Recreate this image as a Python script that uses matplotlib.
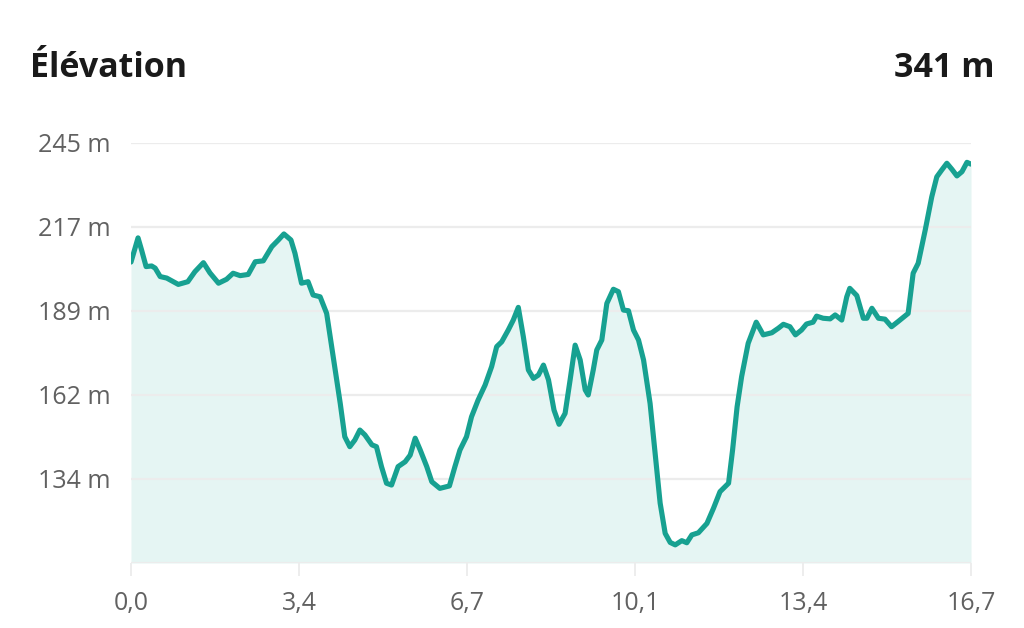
import matplotlib
matplotlib.use("Agg")
import matplotlib.pyplot as plt
import numpy as np

# distance (km) and elevation (m)
dist_km = [0.00, 0.14, 0.21, 0.30, 0.41, 0.48, 0.58, 0.71, 0.94, 1.13, 1.27, 1.44, 1.57, 1.74,
           1.90, 2.03, 2.17, 2.33, 2.47, 2.63, 2.80, 2.93, 3.04, 3.18, 3.26, 3.39, 3.52, 3.62,
           3.76, 3.89, 4.02, 4.16, 4.25, 4.35, 4.45, 4.55, 4.65, 4.79, 4.88, 4.98, 5.08, 5.18,
           5.31, 5.45, 5.55, 5.65, 5.75, 5.88, 5.98, 6.14, 6.33, 6.44, 6.54, 6.67, 6.77, 6.90,
           7.04, 7.17, 7.27, 7.37, 7.50, 7.60, 7.70, 7.80, 7.90, 8.00, 8.10, 8.20, 8.30, 8.41,
           8.51, 8.63, 8.73, 8.83, 8.93, 9.03, 9.09, 9.19, 9.26, 9.36, 9.46, 9.59, 9.69, 9.79,
           9.89, 9.99, 10.09, 10.19, 10.32, 10.42, 10.52, 10.62, 10.72, 10.82, 10.95, 11.05,
           11.15, 11.28, 11.45, 11.58, 11.71, 11.88, 11.96, 12.05, 12.14, 12.27, 12.43, 12.57,
           12.74, 12.87, 12.97, 13.10, 13.21, 13.33, 13.43, 13.56, 13.63, 13.76, 13.90, 14.00,
           14.13, 14.23, 14.29, 14.43, 14.56, 14.63, 14.73, 14.86, 14.99, 15.12, 15.25, 15.45,
           15.55, 15.65, 15.79, 15.92, 16.02, 16.12, 16.22, 16.32, 16.42, 16.52, 16.62, 16.70]
elev_m = [205.6, 213.6, 209.6, 204.1, 204.3, 203.6, 200.8, 200.3, 198.2, 199.1, 202.4, 205.4,
          202.0, 198.6, 199.9, 201.9, 201.1, 201.5, 205.7, 206.0, 210.7, 212.9, 214.9, 212.9,
          208.5, 198.6, 199.1, 194.7, 194.1, 188.6, 174.3, 158.8, 147.8, 144.5, 146.7, 150.0,
          148.4, 145.1, 144.5, 137.9, 132.4, 131.8, 137.9, 139.5, 141.7, 147.3, 143.4, 137.9,
          132.9, 130.7, 131.5, 137.9, 143.4, 147.8, 154.4, 159.9, 164.9, 171.0, 177.6, 179.2,
          183.1, 186.4, 190.6, 180.9, 169.9, 167.1, 168.2, 171.5, 166.6, 156.6, 151.9, 155.5,
          166.6, 178.1, 173.2, 163.3, 161.6, 169.9, 176.5, 179.8, 191.9, 196.6, 195.8, 189.7,
          189.5, 183.1, 179.8, 173.2, 158.8, 142.3, 125.8, 115.8, 112.8, 112.0, 113.4, 112.7,
          115.3, 116.0, 119.1, 124.1, 129.6, 132.4, 143.4, 157.7, 167.7, 178.7, 185.7, 181.5,
          182.2, 183.7, 185.0, 184.2, 181.5, 183.1, 185.1, 185.7, 187.7, 187.0, 186.8, 188.1,
          186.4, 194.1, 196.9, 194.5, 187.0, 187.0, 190.3, 187.0, 186.7, 184.2, 185.9, 188.6,
          201.9, 205.2, 216.2, 227.2, 233.8, 236.1, 238.3, 236.3, 234.1, 235.5, 238.6, 238.0]

total_km = 16.7
x_labels = ["0,0", "3,4", "6,7", "10,1", "13,4", "16,7"]
y_min, y_max = 106.0, 245.0
y_labels = ["", "134 m", "162 m", "189 m", "217 m", "245 m"]
title = "Élévation"
gain = "341 m"

line_col = "#17a191"
fill_col = "#e5f5f3"
grid_col = "#ececec"
label_col = "#616161"

plt.rcParams["font.family"] = ["Open Sans", "DejaVu Sans"]

fig = plt.figure(figsize=(10.24, 6.28), dpi=100)
ax = fig.add_axes([131 / 1024, 1 - 563 / 628, 840 / 1024, 420 / 628])

ax.fill_between(dist_km, elev_m, y_min, color=fill_col, lw=0, zorder=1)
ax.plot(dist_km, elev_m, color=line_col, lw=3.7, solid_joinstyle="round",
        solid_capstyle="round", zorder=3)

ax.set_xlim(0, total_km)
ax.set_ylim(y_min, y_max)

yt = np.linspace(y_min, y_max, len(y_labels))
ax.set_yticks(yt)
ax.set_yticklabels(y_labels)
xt = np.linspace(0, total_km, len(x_labels))
ax.set_xticks(xt)
ax.set_xticklabels(x_labels)

ax.grid(axis="y", color=grid_col, lw=1.6, zorder=2)
ax.set_axisbelow(False)
for s in ["top", "right", "left", "bottom"]:
    ax.spines[s].set_visible(False)

ax.tick_params(axis="y", length=0, pad=15, labelsize=18, labelcolor=label_col)
ax.tick_params(axis="x", length=9, width=1.3, color=grid_col, pad=11,
               labelsize=18, labelcolor=label_col)

fig.text(30 / 1024, 1 - 77 / 628, title, fontsize=24.5, fontweight="bold",
         color="#1a1a1a", ha="left", va="baseline")
fig.text(995 / 1024, 1 - 77 / 628, gain, fontsize=24.5, fontweight="bold",
         color="#1a1a1a", ha="right", va="baseline")

fig.savefig("out.png", dpi=100)
